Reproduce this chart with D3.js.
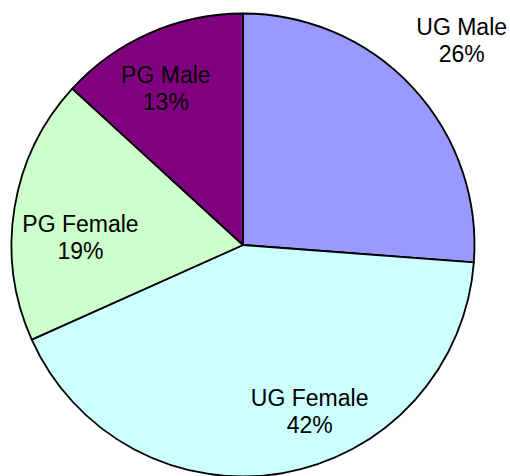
<!DOCTYPE html>
<html>
<head>
<meta charset="utf-8">
<script src="https://cdn.jsdelivr.net/npm/d3@7"></script>
<style>
  body { margin: 0; background: #fff; }
  text { font-family: "Liberation Sans", Arial, sans-serif; font-size: 23px; fill: #000; }
</style>
</head>
<body>
<div id="chart"></div>
<script>
// data
const categories = ["UG Male", "UG Female", "PG Female", "PG Male"];
const values = [26.2, 42.1, 18.5, 13.2];
const colors = ["#9999FF", "#CCFFFF", "#CCFFCC", "#800080"];

// layout
const width = 510;
const height = 476;
const cx = 243, cy = 245;
const radius = 231.5;
// label radius factor and nudge per slice (Excel-like placement)
const labelK = [1.3, 0.72, 0.72, 0.72];
const labelNudge = [[-2, 1], [38, 3], [2, 20], [-10, -3]];

const svg = d3.select("#chart")
.append("svg")
  .attr("width", width)
  .attr("height", height)
.append("g")
  .attr("transform", `translate(${cx},${cy})`);

const total = d3.sum(values);
const slices = d3.pie().sort(null).value(d => d.value)(
  categories.map((c, i) => ({ name: c, value: values[i], color: colors[i] }))
);

const arc = d3.arc().innerRadius(0).outerRadius(radius);

svg.selectAll("path.slice")
.data(slices)
.enter()
.append("path")
.attr("class", "slice")
.attr("d", arc)
.attr("fill", d => d.data.color)
.attr("stroke", "#000")
.attr("stroke-width", 1.8)
.attr("stroke-linejoin", "round");

const labels = svg.selectAll("text.lbl")
.data(slices)
.enter()
.append("text")
.attr("class", "lbl")
.attr("text-anchor", "middle")
.attr("transform", (d, i) => {
  const r = radius * labelK[i];
  const [x, y] = d3.arc().innerRadius(r).outerRadius(r).centroid(d);
  return `translate(${x + labelNudge[i][0]},${y + labelNudge[i][1]})`;
});

labels.append("tspan")
.attr("x", 0)
.attr("y", -6)
.text(d => d.data.name);

labels.append("tspan")
.attr("x", 0)
.attr("y", 21)
.text(d => Math.round(d.data.value / total * 100) + "%");
</script>
</body>
</html>
